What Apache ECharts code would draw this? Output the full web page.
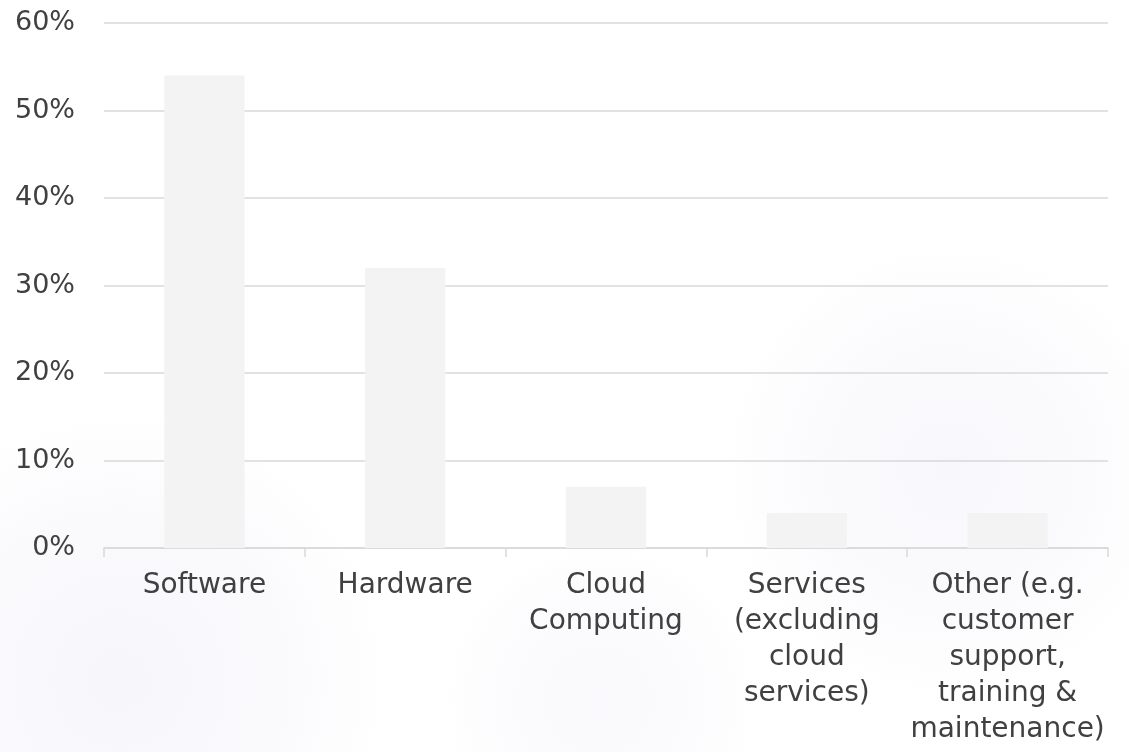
<!DOCTYPE html>
<html>
<head>
<meta charset="utf-8">
<title>Spending by category</title>
<script src="https://cdn.jsdelivr.net/npm/echarts@6/dist/echarts.min.js"></script>
<style>
  html, body { margin: 0; padding: 0; background: #ffffff; }
  #chart { width: 1129px; height: 752px; }
</style>
</head>
<body>
<div id="chart"></div>
<script>
// Categories and their share (%)
const categories = [
  'Software',
  'Hardware',
  'Cloud Computing',
  'Services (excluding cloud services)',
  'Other (e.g. customer support, training & maintenance)'
];
const categoryLabels = [
  'Software',
  'Hardware',
  'Cloud\nComputing',
  'Services\n(excluding\ncloud\nservices)',
  'Other (e.g.\ncustomer\nsupport,\ntraining &\nmaintenance)'
];
const shares = [54, 32, 7, 4, 4];
const yTicks = [0, 10, 20, 30, 40, 50, 60];

const labelFont = 'DejaVu Sans, sans-serif';
const chart = echarts.init(document.getElementById('chart'), null, { renderer: 'canvas' });

// soft lavender haze patch for the backdrop
function haze(cx, cy, rx, ry, alpha) {
  return {
    type: 'ellipse',
    z: -10,
    silent: true,
    shape: { cx: cx, cy: cy, rx: rx, ry: ry },
    style: {
      fill: new echarts.graphic.RadialGradient(0.5, 0.5, 0.5, [
        { offset: 0, color: 'rgba(232,230,244,' + alpha + ')' },
        { offset: 0.6, color: 'rgba(232,230,244,' + (alpha * 0.6) + ')' },
        { offset: 1, color: 'rgba(232,230,244,0)' }
      ])
    }
  };
}

chart.setOption({
  backgroundColor: '#ffffff',
  animation: false,
  graphic: [
    haze(120, 680, 400, 270, 0.35),
    haze(950, 470, 480, 230, 0.3),
    haze(600, 700, 420, 160, 0.25)
  ],
  grid: { left: 104, right: 21, top: 23, bottom: 204, containLabel: false },
  xAxis: {
    type: 'category',
    data: categories,
    axisLine: { show: true, lineStyle: { color: '#d9d9d9', width: 1.5 } },
    axisTick: { show: true, length: 9, lineStyle: { color: '#d9d9d9', width: 1.5 } },
    axisLabel: {
      interval: 0,
      margin: 20,
      color: '#404040',
      fontFamily: labelFont,
      fontSize: 28,
      lineHeight: 36,
      align: 'center',
      formatter: (v, i) => categoryLabels[i]
    }
  },
  yAxis: {
    type: 'value',
    min: yTicks[0],
    max: yTicks[yTicks.length - 1],
    interval: 10,
    axisLine: { show: false },
    axisTick: { show: false },
    splitLine: { show: true, lineStyle: { color: '#d9d9d9', width: 1.5 } },
    axisLabel: {
      margin: 29,
      color: '#404040',
      fontFamily: labelFont,
      fontSize: 27,
      formatter: v => v + '%'
    }
  },
  series: [{
    type: 'bar',
    data: shares,
    barWidth: '40%',
    itemStyle: { color: '#f3f3f3' }
  }]
});
</script>
</body>
</html>
